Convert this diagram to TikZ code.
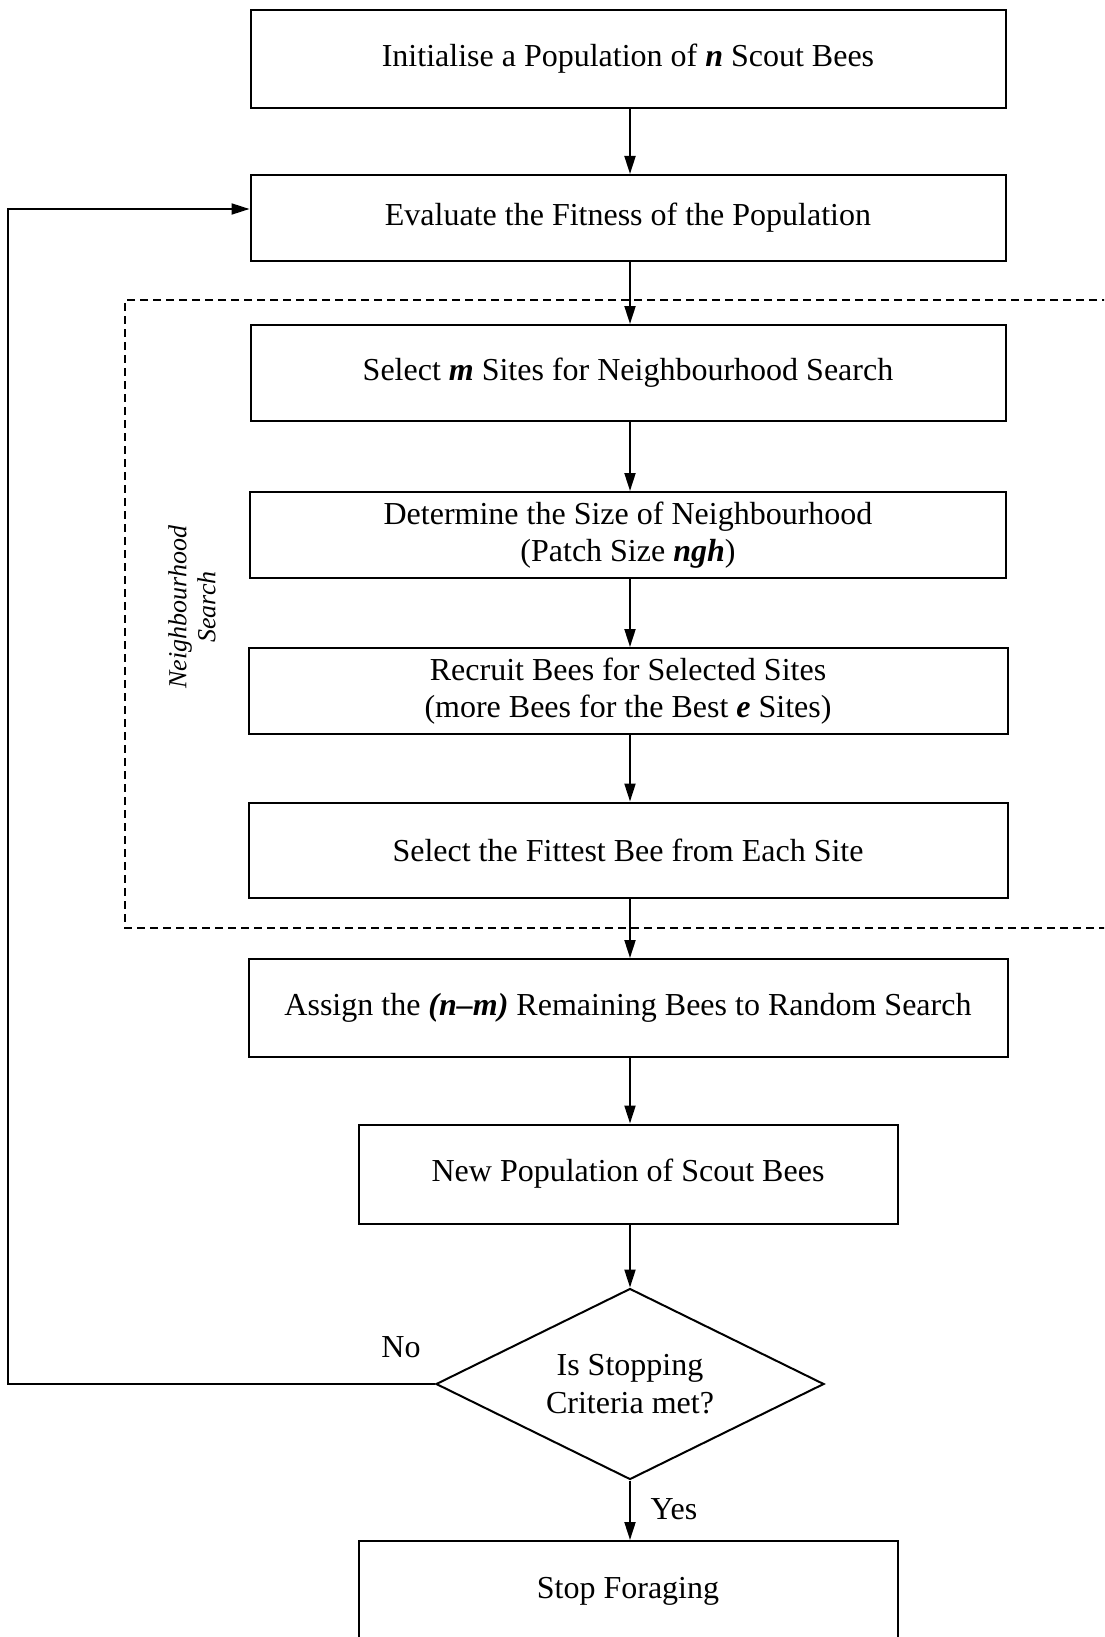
\documentclass[tikz,border=0pt]{standalone}
\usepackage{fontspec}
\setmainfont{Liberation Serif}
\usetikzlibrary{shapes.geometric,arrows.meta}
\begin{document}
\begin{tikzpicture}[x=1pt,y=-1pt,
  every node/.style={font=\fontsize{32}{37.5}\selectfont},
  procbox/.style={draw,line width=2pt,align=center,inner sep=0pt},
  decbox/.style={draw,line width=2pt,diamond,align=center,inner sep=0pt,aspect=2.03},
  flow/.style={line width=2pt,-{Triangle[length=18pt,width=11pt]}},
  dashbox/.style={line width=1.6pt,dash pattern=on 8pt off 5pt}]
\useasboundingbox (0,0) rectangle (1104,1637);
\clip (0,0) rectangle (1104,1637);
\node[procbox,minimum width=755pt,minimum height=98pt] (b1) at (628,59) {\raisebox{3pt}{Initialise a Population of \textbf{\textit{n}} Scout Bees}};
\node[procbox,minimum width=755pt,minimum height=86pt] (b2) at (628,218) {Evaluate the Fitness of the Population};
\node[procbox,minimum width=755pt,minimum height=96pt] (b3) at (628,373) {\raisebox{3pt}{Select \textbf{\textit{m}} Sites for Neighbourhood Search}};
\node[procbox,minimum width=756pt,minimum height=86pt] (b4) at (628,535) {Determine the Size of Neighbourhood\\(Patch Size \textbf{\textit{ngh}})};
\node[procbox,minimum width=759pt,minimum height=86pt] (b5) at (628,691) {Recruit Bees for Selected Sites\\(more Bees for the Best \textbf{\textit{e}} Sites)};
\node[procbox,minimum width=759pt,minimum height=95pt] (b6) at (628,850) {Select the Fittest Bee from Each Site};
\node[procbox,minimum width=759pt,minimum height=98pt] (b7) at (628,1008) {Assign the \textbf{\textit{(n--m)}} Remaining Bees to Random Search};
\node[procbox,minimum width=539pt,minimum height=99pt] (b8) at (628,1174) {\raisebox{3pt}{New Population of Scout Bees}};
\node[decbox,minimum width=388pt,minimum height=191pt] (d1) at (630,1384) {Is Stopping\\Criteria met?};
\node[procbox,minimum width=539pt,minimum height=110pt] (b9) at (628,1596) {\raisebox{16pt}{Stop Foraging}};
\draw[dashbox] (1110,300) -- (125,300) -- (125,928) -- (1110,928);
\node[font=\fontsize{26}{29}\selectfont\itshape,rotate=90,align=center] (lbl) at (192,607) {Neighbourhood\\Search};
\coordinate (ax) at (630,0);
\draw[flow] (b1.south -| ax) -- (b2.north -| ax);
\draw[flow] (b2.south -| ax) -- (b3.north -| ax);
\draw[flow] (b3.south -| ax) -- (b4.north -| ax);
\draw[flow] (b4.south -| ax) -- (b5.north -| ax);
\draw[flow] (b5.south -| ax) -- (b6.north -| ax);
\draw[flow] (b6.south -| ax) -- (b7.north -| ax);
\draw[flow] (b7.south -| ax) -- (b8.north -| ax);
\draw[flow] (b8.south -| ax) -- (d1.north);
\draw[flow] (d1.south) -- (b9.north -| d1.south);
\coordinate (lc) at (8,1384);
\coordinate (lt) at (8,209);
\draw[flow] (d1.west) -- (lc) -- (lt) -- ([yshift=9pt]b2.west);
\node (no) at (401,1347) {No};
\node (yes) at (674,1509) {Yes};
\end{tikzpicture}
\end{document}
